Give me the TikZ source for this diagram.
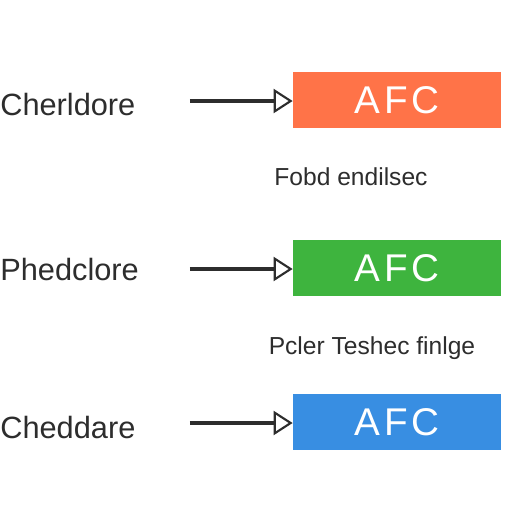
\documentclass[tikz,border=0pt]{standalone}
\usepackage{fontspec}
\setmainfont{Liberation Sans}
\usetikzlibrary{arrows.meta,positioning}
\definecolor{afcorange}{RGB}{255, 115, 72}
\definecolor{afcgreen}{RGB}{62, 180, 62}
\definecolor{afcblue}{RGB}{56, 142, 226}
\definecolor{inkgray}{RGB}{45, 45, 45}
\tikzset{
 afcbox/.style={
 rectangle,
 draw=none,
 minimum width=4.16cm,
 minimum height=1.12cm,
 text=white,
 font=\fontsize{22}{25}\selectfont\addfontfeature{LetterSpace=10}
 },
 sidelabel/.style={
 anchor=west,
 inner sep=0pt,
 text=inkgray,
 font=\fontsize{17.5}{20}\selectfont
 },
 notelabel/.style={
 inner sep=0pt,
 text=inkgray,
 font=\fontsize{14}{17}\selectfont
 },
 feedarrow/.style={-{Triangle[open, length=3.8mm, width=4.8mm, line width=1.2pt]}, line width=2pt, draw=inkgray}
}
\begin{document}
\begin{tikzpicture}[x=0.02cm, y=-0.02cm]
 \useasboundingbox[fill=white] (0,0) rectangle (512,512);

 \node[afcbox, fill=afcorange] (boxa) at (397,100) {AFC};
 \node[afcbox, fill=afcgreen] (boxb) at (397,268) {AFC};
 \node[afcbox, fill=afcblue] (boxc) at (397,422) {AFC};

 \node[sidelabel] (srca) at (0,105) {Cherldore};
 \node[sidelabel] (srcb) at (0,270) {Phedclore};
 \node[sidelabel] (srcc) at (0,428) {Cheddare};

 \node[notelabel] (notea) at (351,177) {Fobd endilsec};
 \node[notelabel] (noteb) at (372,348) {Pcler Teshec finlge};

 \coordinate (taila) at (190,101);
 \coordinate (tailb) at (190,269);
 \coordinate (tailc) at (190,423);

 \draw[feedarrow] (taila) -- (taila -| boxa.west);
 \draw[feedarrow] (tailb) -- (tailb -| boxb.west);
 \draw[feedarrow] (tailc) -- (tailc -| boxc.west);
\end{tikzpicture}
\end{document}
